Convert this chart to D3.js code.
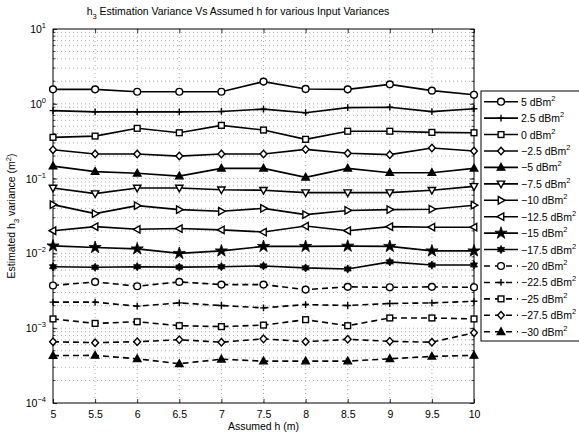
<!DOCTYPE html>
<html>
<head>
<meta charset="utf-8">
<script src="https://cdn.jsdelivr.net/npm/d3@7"></script>
<style>
  body { margin: 0; background: #fff; }
  svg { font-family: "Liberation Sans", Arial, sans-serif; }
  .tick text { font-size: 10.5px; fill: #000; }
</style>
</head>
<body>
<div id="chart"></div>
<script>
// Assumed h values (x axis)
const hValues = [5, 5.5, 6, 6.5, 7, 7.5, 8, 8.5, 9, 9.5, 10];

// Input variances (legend labels, in dBm^2)
const inputVariances = ['5', '2.5', '0', '\u22122.5', '\u22125', '\u22127.5', '\u221210', '\u221212.5',
  '\u221215', '\u221217.5', '\u221220', '\u221222.5', '\u221225', '\u221227.5', '\u221230'];

const markerTypes = ['circle', 'plus', 'square', 'diamond', 'triUp', 'triDown', 'triRight', 'triLeft',
  'star', 'hexagram', 'circle', 'plus', 'square', 'diamond', 'triUp'];

const dashed = [false, false, false, false, false, false, false, false, false, false,
  true, true, true, true, true];

// Estimated h3 variance, one array per input variance
const var5 = [1.56, 1.56, 1.45, 1.45, 1.45, 1.98, 1.58, 1.56, 1.82, 1.50, 1.32];
const var2p5 = [0.81, 0.78, 0.78, 0.78, 0.79, 0.85, 0.76, 0.89, 0.90, 0.785, 0.86];
const var0 = [0.356, 0.37, 0.47, 0.41, 0.515, 0.446, 0.335, 0.43, 0.43, 0.415, 0.41];
const varM2p5 = [0.243, 0.213, 0.213, 0.20, 0.213, 0.213, 0.246, 0.218, 0.209, 0.256, 0.234];
const varM5 = [0.147, 0.124, 0.118, 0.108, 0.137, 0.137, 0.104, 0.137, 0.12, 0.12, 0.137];
const varM7p5 = [0.075, 0.063, 0.075, 0.075, 0.071, 0.070, 0.065, 0.065, 0.065, 0.070, 0.0787];
const varM10 = [0.0449, 0.034, 0.0435, 0.0385, 0.0366, 0.040, 0.033, 0.0375, 0.0385, 0.039, 0.0441];
const varM12p5 = [0.0201, 0.0228, 0.021, 0.0215, 0.0206, 0.0193, 0.0232, 0.0201, 0.0228, 0.0224, 0.0224];
const varM15 = [0.0126, 0.012, 0.0115, 0.0100, 0.0108, 0.0124, 0.0124, 0.0125, 0.0124, 0.0108, 0.0108];
const varM17p5 = [0.00664, 0.00652, 0.00664, 0.00656, 0.00664, 0.0068, 0.0064, 0.0062, 0.0077, 0.0070, 0.0070];
const varM20 = [0.00372, 0.00416, 0.00364, 0.00416, 0.00383, 0.00383, 0.00328, 0.00357, 0.00352, 0.00357, 0.00352];
const varM22p5 = [0.00223, 0.00223, 0.00197, 0.00218, 0.00201, 0.00187, 0.00207, 0.00201, 0.00214, 0.00218, 0.00229];
const varM25 = [0.00133, 0.00116, 0.00122, 0.00108, 0.00105, 0.0011, 0.0013, 0.00108, 0.00137, 0.00137, 0.00133];
const varM27p5 = [0.00066, 0.00064, 0.00066, 0.00070, 0.00065, 0.00072, 0.00066, 0.00071, 0.000667, 0.00065, 0.00087];
const varM30 = [0.00043, 0.000433, 0.00039, 0.000335, 0.000385, 0.000363, 0.000363, 0.000363, 0.00039, 0.00042, 0.000433];

const seriesValues = [var5, var2p5, var0, varM2p5, varM5, varM7p5, varM10, varM12p5,
  varM15, varM17p5, varM20, varM22p5, varM25, varM27p5, varM30];

const yTickPowers = [-4, -3, -2, -1, 0, 1];

const W = 579, H = 435;
const margin = { top: 29, right: 105, bottom: 32, left: 53 };
const width = W - margin.left - margin.right;
const height = H - margin.top - margin.bottom;

const svg = d3.select('#chart').append('svg')
  .attr('width', W).attr('height', H);

const g = svg.append('g')
  .attr('transform', `translate(${margin.left},${margin.top})`);

const x = d3.scaleLinear().domain([5, 10]).range([0, width]);
const y = d3.scaleLog().domain([1e-4, 1e1]).range([height, 0]);

// grid: minor log lines and x lines, dotted
const minorY = [];
for (let p = -4; p < 1; p++) {
  for (let k = 1; k <= 9; k++) minorY.push(k * Math.pow(10, p));
}
const gridY = minorY.filter(v => v > 1e-4 && v < 10);

g.append('g').selectAll('line')
  .data(gridY)
  .enter().append('line')
  .attr('x1', 0).attr('x2', width)
  .attr('y1', d => y(d)).attr('y2', d => y(d))
  .attr('stroke', '#777').attr('stroke-width', 0.6)
  .attr('stroke-dasharray', '1,3');

g.append('g').selectAll('line')
  .data(hValues.slice(1, -1))
  .enter().append('line')
  .attr('y1', 0).attr('y2', height)
  .attr('x1', d => x(d)).attr('x2', d => x(d))
  .attr('stroke', '#777').attr('stroke-width', 0.6)
  .attr('stroke-dasharray', '1,3');

// axes
const xAxis = g.append('g')
  .attr('transform', `translate(0,${height})`)
  .call(d3.axisBottom(x).tickValues(hValues).tickSize(-4).tickPadding(8).tickFormat(d3.format('')));
const xTop = g.append('g')
  .call(d3.axisTop(x).tickValues(hValues).tickSize(-4).tickFormat(''));

const yAxis = g.append('g')
  .call(d3.axisLeft(y).tickValues(yTickPowers.map(p => Math.pow(10, p))).tickSize(-4).tickFormat(''));
const yRight = g.append('g')
  .attr('transform', `translate(${width},0)`)
  .call(d3.axisRight(y).tickValues(yTickPowers.map(p => Math.pow(10, p))).tickSize(-4).tickFormat(''));

// minor ticks on y axes
[0, width].forEach(xx => {
  g.append('g').selectAll('line')
    .data(gridY)
    .enter().append('line')
    .attr('x1', xx).attr('x2', xx === 0 ? 2.5 : width - 2.5)
    .attr('y1', d => y(d)).attr('y2', d => y(d))
    .attr('stroke', '#000').attr('stroke-width', 0.7);
});

[xAxis, xTop, yAxis, yRight].forEach(a => {
  a.select('.domain').remove();
  a.selectAll('.tick line').attr('stroke', '#000').attr('stroke-width', 0.8);
});

// y tick labels as 10^p
yTickPowers.forEach(p => {
  const t = g.append('text')
    .attr('x', -7).attr('y', y(Math.pow(10, p)) + 4)
    .attr('text-anchor', 'end')
    .style('font-size', '10.5px');
  t.append('tspan').text('10');
  t.append('tspan').attr('dy', -5).style('font-size', '7.5px').text(p < 0 ? '\u2212' + (-p) : p);
});

// frame
g.append('rect')
  .attr('width', width).attr('height', height)
  .attr('fill', 'none').attr('stroke', '#000').attr('stroke-width', 1);

// markers
function drawMarker(sel, type, size) {
  const s = size;
  const stroke = '#000';
  const sw = 1.4;
  if (type === 'circle') {
    sel.append('circle').attr('r', s).attr('fill', '#fff').attr('stroke', stroke).attr('stroke-width', sw);
  } else if (type === 'plus') {
    sel.append('path').attr('d', `M${-s},0H${s}M0,${-s}V${s}`).attr('stroke', stroke).attr('stroke-width', sw).attr('fill', 'none');
  } else if (type === 'square') {
    sel.append('rect').attr('x', -s * 0.85).attr('y', -s * 0.85).attr('width', s * 1.7).attr('height', s * 1.7)
      .attr('fill', '#fff').attr('stroke', stroke).attr('stroke-width', sw);
  } else if (type === 'diamond') {
    sel.append('path').attr('d', `M0,${-s * 1.1}L${s},0L0,${s * 1.1}L${-s},0Z`)
      .attr('fill', '#fff').attr('stroke', stroke).attr('stroke-width', sw);
  } else if (type.startsWith('tri')) {
    const r = s * 1.15;
    let pts = [[0, -r], [r * 0.95, r * 0.7], [-r * 0.95, r * 0.7]];
    const rot = { triUp: 0, triRight: 90, triDown: 180, triLeft: 270 }[type];
    const a = rot * Math.PI / 180;
    pts = pts.map(([px, py]) => [px * Math.cos(a) - py * Math.sin(a), px * Math.sin(a) + py * Math.cos(a)]);
    sel.append('path').attr('d', 'M' + pts.map(p => p.join(',')).join('L') + 'Z')
      .attr('fill', type === 'triUp' ? '#000' : '#fff').attr('stroke', stroke).attr('stroke-width', sw);
  } else if (type === 'star') {
    sel.append('path').attr('d', d3.symbol(d3.symbolStar, s * s * 4)())
      .attr('fill', '#000').attr('stroke', stroke).attr('stroke-width', 0.8);
  } else if (type === 'hexagram') {
    const r = s * 1.2;
    const pts = [];
    for (let i = 0; i < 12; i++) {
      const rr = i % 2 === 0 ? r : r * 0.58;
      const a = i * Math.PI / 6 - Math.PI / 2;
      pts.push([rr * Math.cos(a), rr * Math.sin(a)]);
    }
    sel.append('path').attr('d', 'M' + pts.map(p => p.join(',')).join('L') + 'Z')
      .attr('fill', '#000').attr('stroke', stroke).attr('stroke-width', 0.8);
  }
}

const line = d3.line().x((d, i) => x(hValues[i])).y(d => y(d));

seriesValues.forEach((vals, si) => {
  const sg = g.append('g');
  sg.append('path')
    .attr('d', line(vals))
    .attr('fill', 'none').attr('stroke', '#000').attr('stroke-width', 1.6)
    .attr('stroke-dasharray', dashed[si] ? '6,4' : null);
  vals.forEach((v, i) => {
    const m = sg.append('g').attr('transform', `translate(${x(hValues[i])},${y(v)})`);
    drawMarker(m, markerTypes[si], 3.4);
  });
});

// title
const title = svg.append('text')
  .attr('x', 238).attr('y', 15)
  .attr('text-anchor', 'middle')
  .style('font-size', '10.5px');
title.append('tspan').text('h');
title.append('tspan').attr('dy', 4).style('font-size', '7.5px').text('3');
title.append('tspan').attr('dy', -4).text(' Estimation Variance Vs Assumed h for various Input Variances');

// x label
svg.append('text')
  .attr('x', margin.left + width / 2).attr('y', 430)
  .attr('text-anchor', 'middle')
  .style('font-size', '10.5px')
  .text('Assumed h (m)');

// y label
const yl = svg.append('text')
  .attr('transform', `translate(15,${margin.top + height / 2}) rotate(-90)`)
  .attr('text-anchor', 'middle')
  .style('font-size', '10.5px');
yl.append('tspan').text('Estimated h');
yl.append('tspan').attr('dy', 4).style('font-size', '7.5px').text('3');
yl.append('tspan').attr('dy', -4).text(' variance (m');
yl.append('tspan').attr('dy', -4).style('font-size', '7.5px').text('2');
yl.append('tspan').attr('dy', 4).text(')');

// legend
const legX = 481, legY = 91, legRowH = 16.43;
const leg = svg.append('g').attr('transform', `translate(${legX},${legY})`);
leg.append('rect')
  .attr('width', 120).attr('height', 250)
  .attr('fill', '#fff').attr('stroke', '#000').attr('stroke-width', 1);

inputVariances.forEach((lab, i) => {
  const row = leg.append('g').attr('transform', `translate(0,${10.7 + i * legRowH})`);
  row.append('line')
    .attr('x1', 3).attr('x2', 37).attr('y1', 0).attr('y2', 0)
    .attr('stroke', '#000').attr('stroke-width', 1.6)
    .attr('stroke-dasharray', dashed[i] ? '6,5' : null);
  const m = row.append('g').attr('transform', 'translate(20,0)');
  drawMarker(m, markerTypes[i], 3.4);
  const t = row.append('text').attr('x', 40).attr('y', 4).style('font-size', '10.5px');
  t.append('tspan').text(lab + ' dBm');
  t.append('tspan').attr('dy', -5).style('font-size', '7.5px').text('2');
});
</script>
</body>
</html>
